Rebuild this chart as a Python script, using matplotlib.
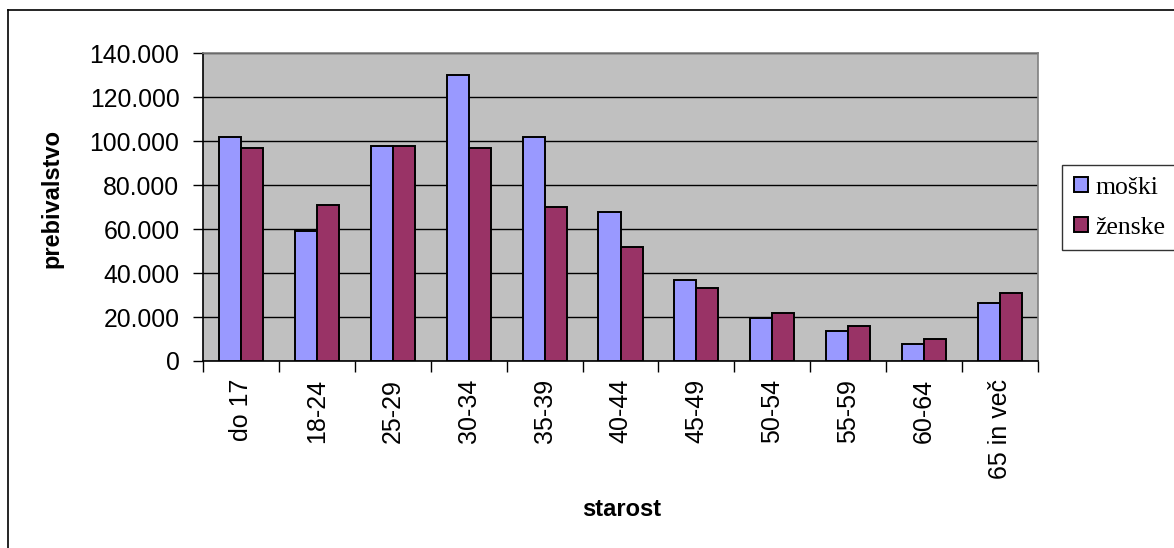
import matplotlib
matplotlib.use("Agg")
import matplotlib.pyplot as plt
import numpy as np
from matplotlib.ticker import FuncFormatter, FixedLocator
from matplotlib.lines import Line2D

categories = ["do 17", "18-24", "25-29", "30-34", "35-39", "40-44", "45-49",
              "50-54", "55-59", "60-64", "65 in več"]
moski = [102000, 59000, 98000, 130000, 102000, 68000, 37000, 19700, 13500, 7900, 26300]
zenske = [97000, 71000, 98000, 97000, 70000, 51800, 33400, 21700, 16100, 9900, 30800]
series_names = ["moški", "ženske"]
y_ticks = [0, 20000, 40000, 60000, 80000, 100000, 120000, 140000]

plt.rcParams['font.family'] = ['Liberation Sans', 'DejaVu Sans']

fig = plt.figure(figsize=(11.74, 5.48), dpi=100)
ax = fig.add_axes([203/1174, 1 - 361/548, (1038 - 203)/1174, (361 - 53.3)/548])

x = np.arange(len(categories))
w = 0.29
b1 = ax.bar(x - w/2, moski, w, color="#9999FF", edgecolor="black", linewidth=1.4, zorder=3, label=series_names[0])
b2 = ax.bar(x + w/2, zenske, w, color="#993366", edgecolor="black", linewidth=1.4, zorder=3, label=series_names[1])

ax.set_facecolor("#C0C0C0")
ax.set_xlim(-0.5, len(categories) - 0.5)
ax.set_ylim(0, 140000)
ax.set_yticks(y_ticks)
ax.yaxis.set_major_formatter(FuncFormatter(lambda v, p: f"{int(v):,}".replace(",", ".")))
ax.yaxis.grid(True, color="black", linewidth=1.0, zorder=1)
ax.set_axisbelow(True)

# category ticks at group boundaries, labels at group centres
ax.xaxis.set_major_locator(FixedLocator(np.arange(-0.5, len(categories), 1.0)))
ax.xaxis.set_major_formatter(FuncFormatter(lambda v, p: ""))
ax.set_xticks(x, minor=True)
ax.set_xticklabels(categories, minor=True, rotation=90, fontsize=18)
ax.tick_params(axis="x", which="minor", length=0, pad=13)
ax.tick_params(axis="x", which="major", length=8, width=1, direction="out")
ax.tick_params(axis="y", length=7, width=1, direction="out", labelsize=17.8, pad=10)

for s in ["left", "bottom"]:
    ax.spines[s].set_color("black")
    ax.spines[s].set_linewidth(1.2)
for s in ["top", "right"]:
    ax.spines[s].set_color("#808080")
    ax.spines[s].set_linewidth(1.2)

fig.text(52/1174, 1 - 199/548, "prebivalstvo", fontsize=17, fontweight="bold",
         rotation=90, ha="center", va="center")
fig.text(622/1174, 1 - 510/548, "starost", fontsize=17, fontweight="bold", ha="center", va="center")

leg = fig.legend(handles=[b1, b2], labels=series_names, loc="upper left",
                 bbox_to_anchor=(1062/1174, 1 - 165/548), frameon=True, fancybox=False,
                 prop={"family": "Liberation Serif", "size": 18.5}, handlelength=0.55,
                 handleheight=0.55, handletextpad=0.3, borderpad=0.45, labelspacing=0.7,
                 borderaxespad=0)
leg.get_frame().set_edgecolor("black")
leg.get_frame().set_linewidth(1.0)

# outer chart frame
fig.add_artist(Line2D([8/1174, 8/1174], [0, 1 - 10/548], transform=fig.transFigure, color="black", linewidth=1.2))
fig.add_artist(Line2D([8/1174, 1], [1 - 10/548, 1 - 10/548], transform=fig.transFigure, color="black", linewidth=1.2))

fig.savefig("out.png", dpi=100)
